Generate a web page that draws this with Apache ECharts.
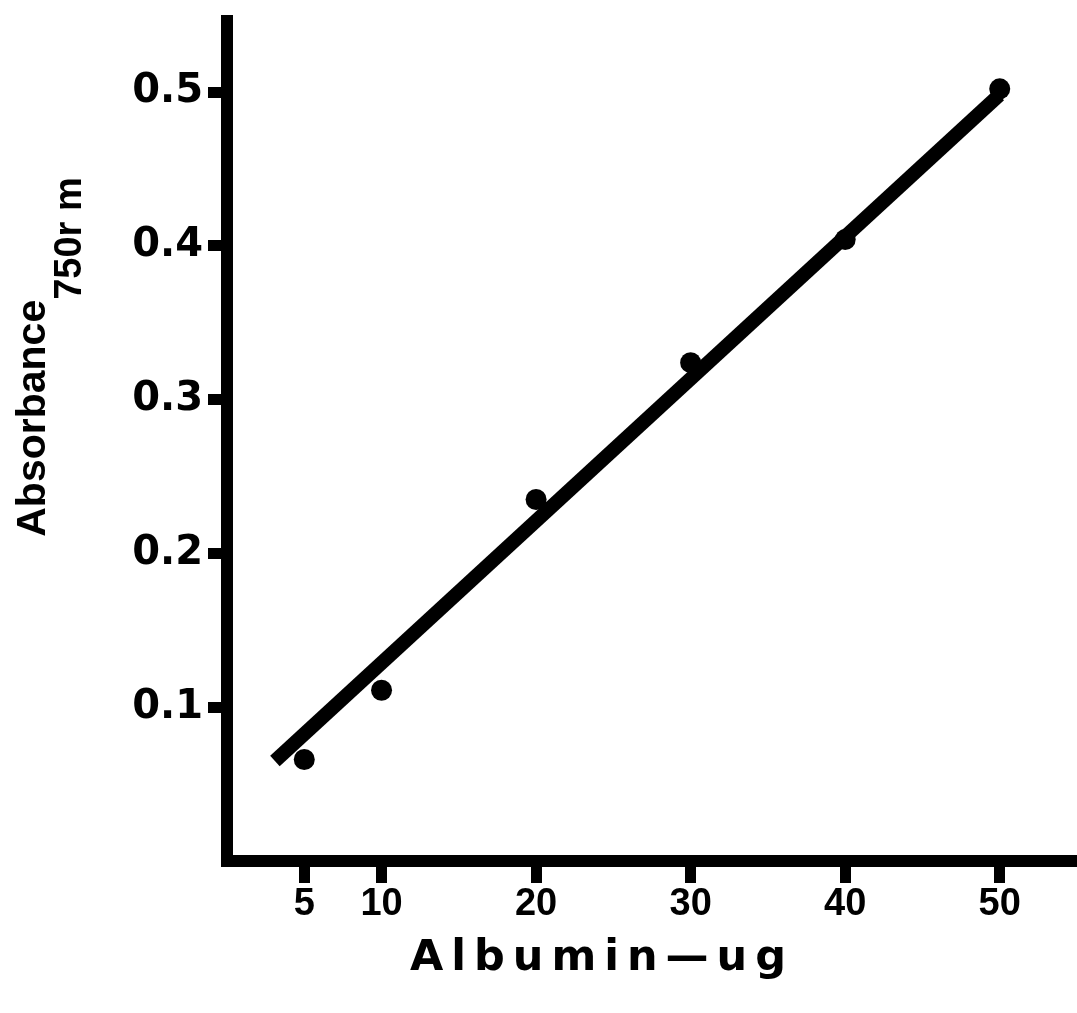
<!DOCTYPE html>
<html lang="en">
<head>
<meta charset="UTF-8">
<title>Albumin standard curve</title>
<script src="https://cdn.jsdelivr.net/npm/echarts@6/dist/echarts.min.js"></script>
<style>
  html, body { margin: 0; padding: 0; background: #fff; }
  #main { width: 1077px; height: 1013px; }
</style>
</head>
<body>
<div id="main"></div>
<script>
// measured points (albumin ug vs absorbance)
const albumin = [5, 10, 20, 30, 40, 50];
const absorbance = [0.066, 0.111, 0.235, 0.324, 0.404, 0.502];
// ends of the drawn straight line
const fitX = [3.1, 49.97];
const fitY = [0.065, 0.498];
// tick values
const xTicks = [5, 10, 20, 30, 40, 50];
const yTicks = [0.1, 0.2, 0.3, 0.4, 0.5];

const xTitle = 'Albumin—ug';
const yTitle = 'Absorbance';
const ySub = '750r m';

let chart = echarts.init(document.getElementById('main'));

let option = {
  backgroundColor: '#fff',
  animation: false,
  grid: { left: 227, right: 0, top: 15, bottom: 152 },
  xAxis: {
    type: 'value',
    min: 0,
    max: 55,
    splitLine: { show: false },
    axisLine: { lineStyle: { color: '#000', width: 12, cap: 'square' } },
    axisTick: { customValues: xTicks, length: 22, lineStyle: { color: '#000', width: 11 } },
    axisLabel: {
      customValues: xTicks,
      margin: 25,
      color: '#000',
      fontFamily: '"Liberation Sans", Arial, sans-serif',
      fontWeight: 'bold',
      fontSize: 38
    },
    name: xTitle.split('').map(c => '{s|' + c + '}').join(''),
    nameLocation: 'middle',
    nameGap: 76,
    nameTextStyle: {
      padding: [0, 108, 0, 0],
      rich: {
        s: {
          color: '#000',
          fontFamily: '"DejaVu Sans", sans-serif',
          fontWeight: 'bold',
          fontSize: 43,
          padding: [0, 4, 0, 4]
        }
      }
    }
  },
  yAxis: {
    type: 'value',
    min: 0,
    max: 0.55,
    splitLine: { show: false },
    axisLine: { lineStyle: { color: '#000', width: 12, cap: 'butt' } },
    axisTick: { customValues: yTicks, length: 19, lineStyle: { color: '#000', width: 11 } },
    axisLabel: {
      customValues: yTicks,
      margin: 24,
      color: '#000',
      fontFamily: '"DejaVu Sans", sans-serif',
      fontWeight: 'bold',
      fontSize: 40,
      formatter: v => v.toFixed(1)
    },
    name: '{a|' + yTitle + '}{b|' + ySub + '}',
    nameLocation: 'middle',
    nameRotate: 90,
    nameGap: 153,
    nameTextStyle: {
      padding: [0, 0, 0, 162],
      rich: {
        a: {
          color: '#000',
          fontFamily: '"Liberation Sans", Arial, sans-serif',
          fontWeight: 'bold',
          fontSize: 41,
          lineHeight: 44,
          padding: [0, 0, 37, 0]
        },
        b: {
          color: '#000',
          fontFamily: '"Liberation Sans", Arial, sans-serif',
          fontWeight: 'bold',
          fontSize: 38,
          lineHeight: 40,
          padding: [37, 0, 0, 0]
        }
      }
    }
  },
  series: [
    {
      type: 'line',
      data: fitX.map((x, i) => [x, fitY[i]]),
      symbol: 'none',
      lineStyle: { color: '#000', width: 14, cap: 'butt' },
      z: 2
    },
    {
      type: 'scatter',
      data: albumin.map((x, i) => [x, absorbance[i]]),
      symbol: 'circle',
      symbolSize: 21,
      itemStyle: { color: '#000', opacity: 1 },
      z: 3
    }
  ]
};

option && chart.setOption(option);
</script>
</body>
</html>
